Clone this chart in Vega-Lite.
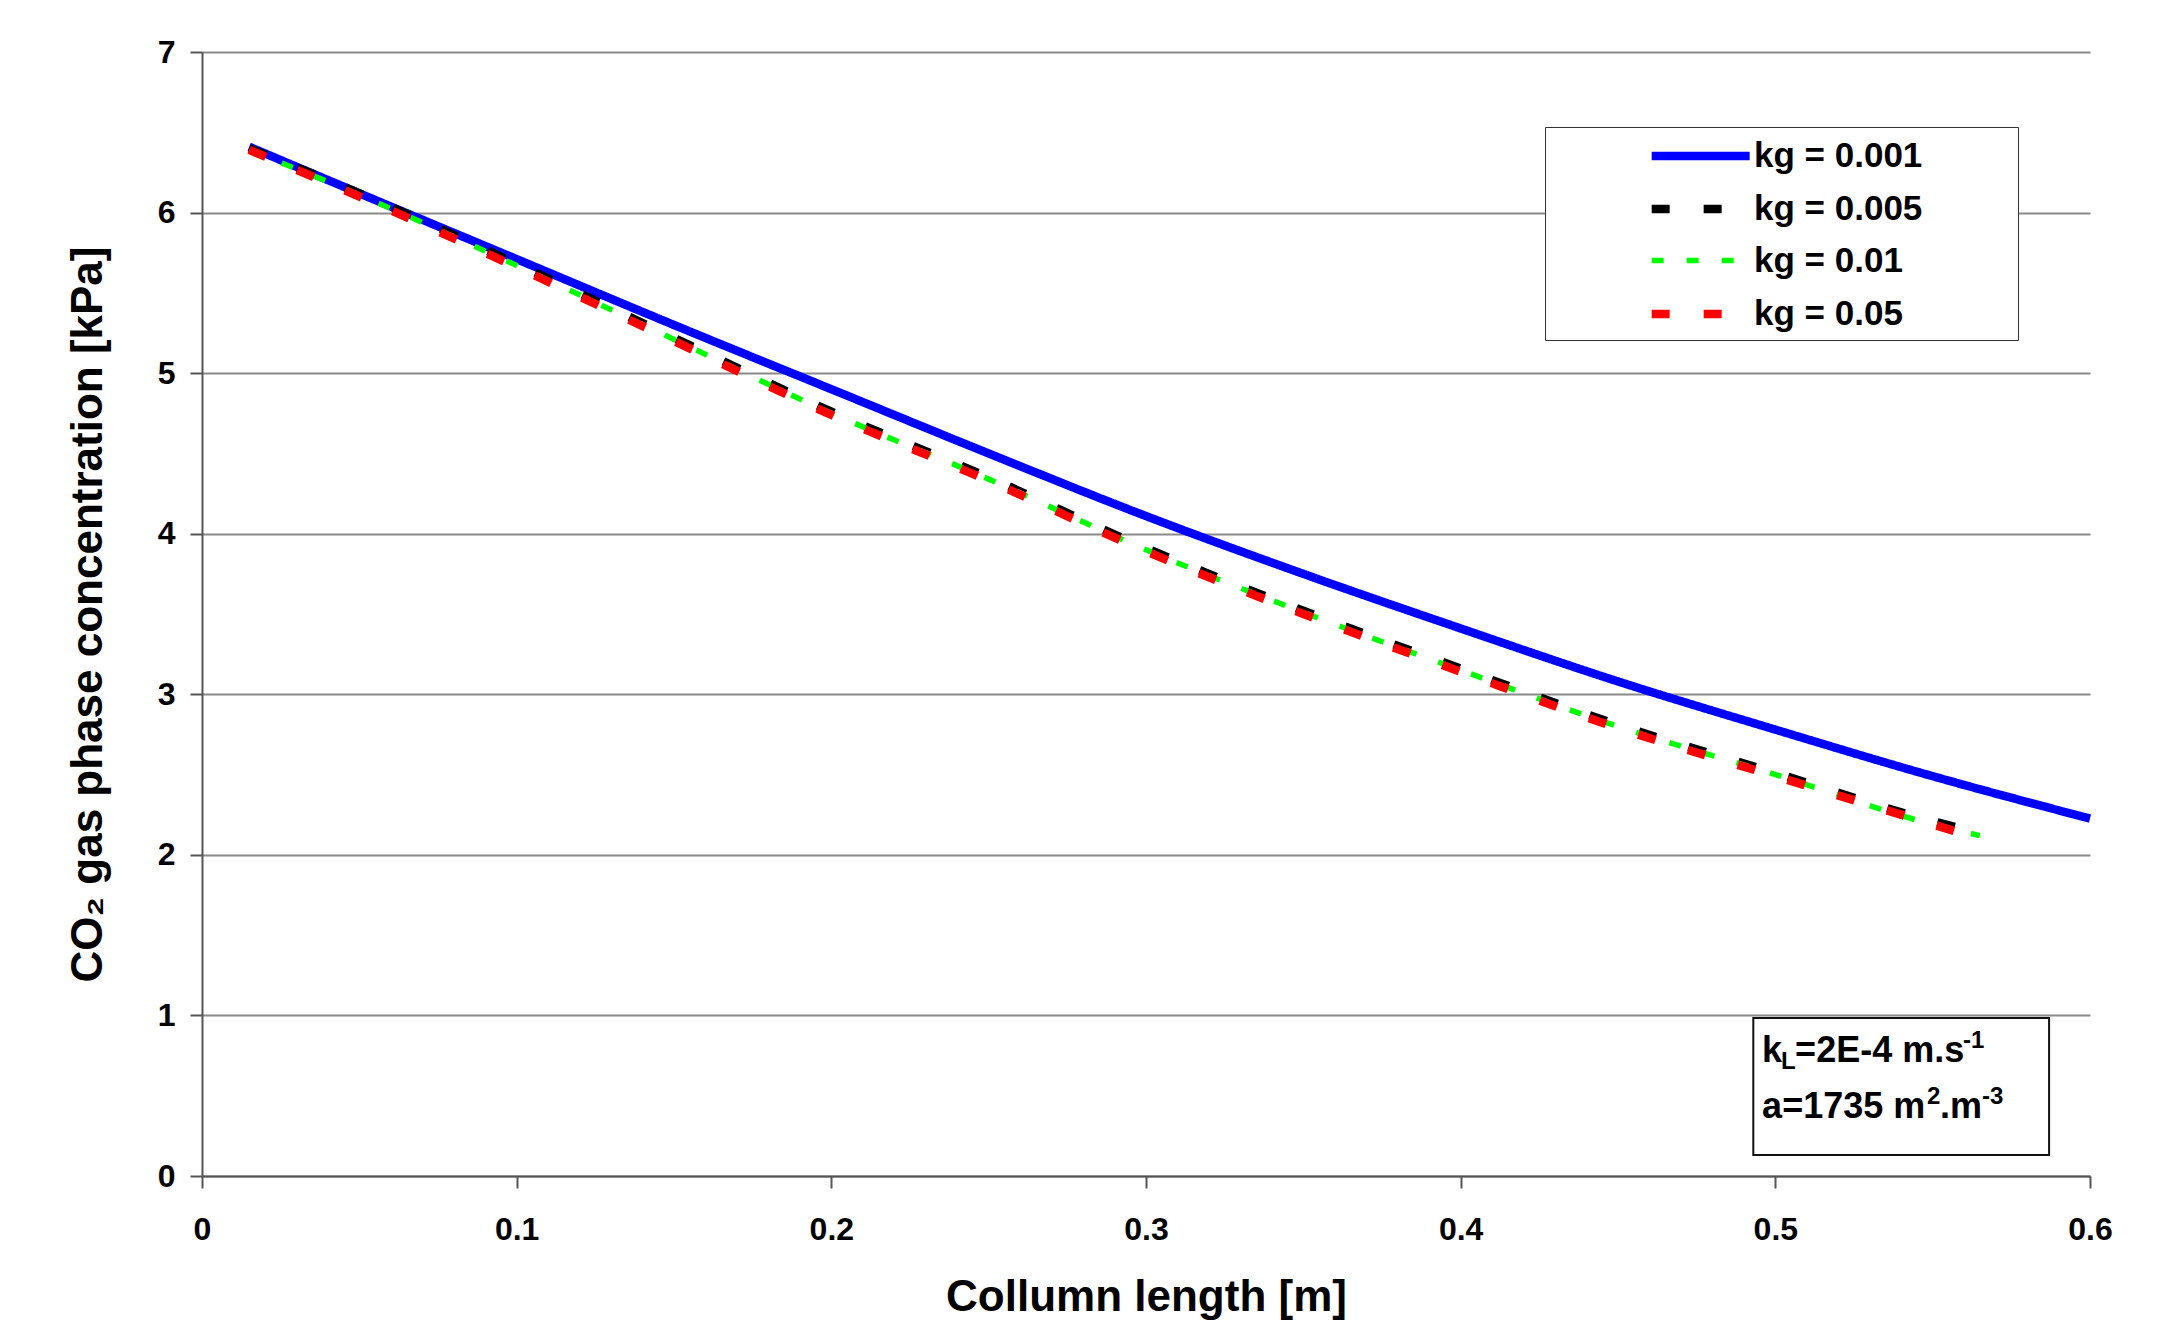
{
  "$schema": "https://vega.github.io/schema/vega-lite/v6.json",
  "width": 1888,
  "height": 1124,
  "autosize": "none",
  "padding": {"left": 202, "top": 52, "right": 67, "bottom": 149},
  "background": "white",
  "config": {"font": "Liberation Sans", "view": {"stroke": null}},
  "layer": [
    {
      "data": {"values": [
        {"L": 0.015, "C": 6.41, "s": "kg = 0.001"}, {"L": 0.05, "C": 6.12, "s": "kg = 0.001"}, {"L": 0.1, "C": 5.71, "s": "kg = 0.001"}, {"L": 0.15, "C": 5.30, "s": "kg = 0.001"}, {"L": 0.2, "C": 4.90, "s": "kg = 0.001"}, {"L": 0.25, "C": 4.50, "s": "kg = 0.001"}, {"L": 0.3, "C": 4.11, "s": "kg = 0.001"}, {"L": 0.35, "C": 3.75, "s": "kg = 0.001"}, {"L": 0.4, "C": 3.41, "s": "kg = 0.001"}, {"L": 0.45, "C": 3.08, "s": "kg = 0.001"}, {"L": 0.5, "C": 2.78, "s": "kg = 0.001"}, {"L": 0.55, "C": 2.49, "s": "kg = 0.001"}, {"L": 0.6, "C": 2.226, "s": "kg = 0.001"},
        {"L": 0.015, "C": 6.40, "s": "kg = 0.005"}, {"L": 0.05, "C": 6.12, "s": "kg = 0.005"}, {"L": 0.1, "C": 5.68, "s": "kg = 0.005"}, {"L": 0.15, "C": 5.22, "s": "kg = 0.005"}, {"L": 0.2, "C": 4.76, "s": "kg = 0.005"}, {"L": 0.25, "C": 4.35, "s": "kg = 0.005"}, {"L": 0.3, "C": 3.91, "s": "kg = 0.005"}, {"L": 0.35, "C": 3.52, "s": "kg = 0.005"}, {"L": 0.4, "C": 3.16, "s": "kg = 0.005"}, {"L": 0.45, "C": 2.81, "s": "kg = 0.005"}, {"L": 0.5, "C": 2.51, "s": "kg = 0.005"}, {"L": 0.55, "C": 2.21, "s": "kg = 0.005"}, {"L": 0.56, "C": 2.16, "s": "kg = 0.005"},
        {"L": 0.015, "C": 6.39, "s": "kg = 0.01"}, {"L": 0.05, "C": 6.11, "s": "kg = 0.01"}, {"L": 0.1, "C": 5.67, "s": "kg = 0.01"}, {"L": 0.15, "C": 5.21, "s": "kg = 0.01"}, {"L": 0.2, "C": 4.75, "s": "kg = 0.01"}, {"L": 0.25, "C": 4.34, "s": "kg = 0.01"}, {"L": 0.3, "C": 3.90, "s": "kg = 0.01"}, {"L": 0.35, "C": 3.51, "s": "kg = 0.01"}, {"L": 0.4, "C": 3.15, "s": "kg = 0.01"}, {"L": 0.45, "C": 2.80, "s": "kg = 0.01"}, {"L": 0.5, "C": 2.50, "s": "kg = 0.01"}, {"L": 0.55, "C": 2.19, "s": "kg = 0.01"}, {"L": 0.565, "C": 2.12, "s": "kg = 0.01"},
        {"L": 0.015, "C": 6.39, "s": "kg = 0.05"}, {"L": 0.05, "C": 6.10, "s": "kg = 0.05"}, {"L": 0.1, "C": 5.66, "s": "kg = 0.05"}, {"L": 0.15, "C": 5.20, "s": "kg = 0.05"}, {"L": 0.2, "C": 4.74, "s": "kg = 0.05"}, {"L": 0.25, "C": 4.33, "s": "kg = 0.05"}, {"L": 0.3, "C": 3.89, "s": "kg = 0.05"}, {"L": 0.35, "C": 3.50, "s": "kg = 0.05"}, {"L": 0.4, "C": 3.14, "s": "kg = 0.05"}, {"L": 0.45, "C": 2.79, "s": "kg = 0.05"}, {"L": 0.5, "C": 2.49, "s": "kg = 0.05"}, {"L": 0.55, "C": 2.19, "s": "kg = 0.05"}, {"L": 0.56, "C": 2.13, "s": "kg = 0.05"}
      ]},
      "mark": {"type": "line", "interpolate": "monotone", "strokeCap": "butt"},
      "encoding": {
        "x": {
          "field": "L", "type": "quantitative",
          "scale": {"domain": [0, 0.6], "nice": false, "zero": false},
          "axis": {
            "title": "Collumn length [m]",
            "values": [0, 0.1, 0.2, 0.3, 0.4, 0.5, 0.6],
            "format": "~g",
            "grid": false,
            "labelFontSize": 32, "labelFontWeight": "bold", "labelColor": "black", "labelFont": "Liberation Sans",
            "labelPadding": 26, "labelFlush": false, "labelOverlap": false,
            "tickSize": 12, "tickColor": "#555555", "tickWidth": 2,
            "domainColor": "#555555", "domainWidth": 2,
            "titleFontSize": 44, "titleFontWeight": "bold", "titleColor": "black", "titleFont": "Liberation Sans",
            "titlePadding": 30
          }
        },
        "y": {
          "field": "C", "type": "quantitative",
          "scale": {"domain": [0, 7], "nice": false},
          "axis": {
            "title": "CO₂ gas phase concentration [kPa]",
            "values": [0, 1, 2, 3, 4, 5, 6, 7],
            "format": "d",
            "grid": true, "gridColor": "#8a8a8a", "gridWidth": 2,
            "labelFontSize": 32, "labelFontWeight": "bold", "labelColor": "black", "labelFont": "Liberation Sans",
            "labelPadding": 15, "labelFlush": false, "labelOverlap": false,
            "tickSize": 12, "tickColor": "#555555", "tickWidth": 2,
            "domainColor": "#555555", "domainWidth": 2,
            "titleFontSize": 44, "titleFontWeight": "bold", "titleColor": "black", "titleFont": "Liberation Sans",
            "titlePadding": 47
          }
        },
        "color": {
          "field": "s", "type": "nominal",
          "scale": {"domain": ["kg = 0.001", "kg = 0.005", "kg = 0.01", "kg = 0.05"], "range": ["#0000ff", "#000000", "#00ff00", "#ff0000"]},
          "legend": {
            "orient": "none", "legendX": 1343, "legendY": 75, "title": null,
            "symbolType": "M-1,0H5", "symbolSize": 1067,
            "labelFontSize": 35, "labelFontWeight": "bold", "labelColor": "black", "labelFont": "Liberation Sans",
            "strokeColor": "#333333", "fillColor": "white", "padding": 8,
            "symbolOffset": 94, "labelOffset": 65, "rowPadding": 14, "labelLimit": 1000,
            "labelExpr": "datum.label + '\u00a0\u00a0\u00a0\u00a0\u00a0\u00a0\u00a0\u00a0\u00a0\u200b'"
          }
        },
        "strokeDash": {
          "field": "s", "type": "nominal",
          "scale": {"domain": ["kg = 0.001", "kg = 0.005", "kg = 0.01", "kg = 0.05"], "range": [[1, 0], [18, 34], [12, 23], [18, 34]]},
          "legend": {
            "orient": "none", "legendX": 1343, "legendY": 75, "title": null,
            "symbolType": "M-1,0H5", "symbolSize": 1067,
            "labelFontSize": 35, "labelFontWeight": "bold", "labelColor": "black", "labelFont": "Liberation Sans",
            "strokeColor": "#333333", "fillColor": "white", "padding": 8,
            "symbolOffset": 94, "labelOffset": 65, "rowPadding": 14, "labelLimit": 1000,
            "labelExpr": "datum.label + '\u00a0\u00a0\u00a0\u00a0\u00a0\u00a0\u00a0\u00a0\u00a0\u200b'"
          }
        },
        "strokeWidth": {
          "field": "s", "type": "nominal",
          "scale": {"type": "ordinal", "domain": ["kg = 0.001", "kg = 0.005", "kg = 0.01", "kg = 0.05"], "range": [8.5, 8.5, 5.5, 8.5]},
          "legend": {
            "orient": "none", "legendX": 1343, "legendY": 75, "title": null,
            "symbolType": "M-1,0H5", "symbolSize": 1067,
            "labelFontSize": 35, "labelFontWeight": "bold", "labelColor": "black", "labelFont": "Liberation Sans",
            "strokeColor": "#333333", "fillColor": "white", "padding": 8,
            "symbolOffset": 94, "labelOffset": 65, "rowPadding": 14, "labelLimit": 1000,
            "labelExpr": "datum.label + '\u00a0\u00a0\u00a0\u00a0\u00a0\u00a0\u00a0\u00a0\u00a0\u200b'"
          }
        }
      }
    },
    {
      "data": {"values": [{}]},
      "mark": {"type": "rect", "fill": "white", "stroke": "#111111", "strokeWidth": 2},
      "encoding": {
        "x": {"datum": 0.493, "type": "quantitative"},
        "x2": {"datum": 0.587},
        "y": {"datum": 0.984, "type": "quantitative"},
        "y2": {"datum": 0.131}
      }
    },
    {
      "data": {"values": [{}]},
      "mark": {"type": "text", "text": "k", "fontSize": 36, "fontWeight": "bold", "align": "left", "baseline": "alphabetic", "font": "Liberation Sans", "color": "black"},
      "encoding": {"x": {"datum": 0.4958, "type": "quantitative"}, "y": {"datum": 0.71, "type": "quantitative"}}
    },
    {
      "data": {"values": [{}]},
      "mark": {"type": "text", "text": "L", "fontSize": 24, "fontWeight": "bold", "align": "left", "baseline": "alphabetic", "font": "Liberation Sans", "color": "black", "dx": 19, "dy": 7},
      "encoding": {"x": {"datum": 0.4958, "type": "quantitative"}, "y": {"datum": 0.71, "type": "quantitative"}}
    },
    {
      "data": {"values": [{}]},
      "mark": {"type": "text", "text": "=2E-4 m.s", "fontSize": 36, "fontWeight": "bold", "align": "left", "baseline": "alphabetic", "font": "Liberation Sans", "color": "black", "dx": 33},
      "encoding": {"x": {"datum": 0.4958, "type": "quantitative"}, "y": {"datum": 0.71, "type": "quantitative"}}
    },
    {
      "data": {"values": [{}]},
      "mark": {"type": "text", "text": "-1", "fontSize": 24, "fontWeight": "bold", "align": "left", "baseline": "alphabetic", "font": "Liberation Sans", "color": "black", "dx": 201, "dy": -14},
      "encoding": {"x": {"datum": 0.4958, "type": "quantitative"}, "y": {"datum": 0.71, "type": "quantitative"}}
    },
    {
      "data": {"values": [{}]},
      "mark": {"type": "text", "text": "a=1735 m", "fontSize": 36, "fontWeight": "bold", "align": "left", "baseline": "alphabetic", "font": "Liberation Sans", "color": "black"},
      "encoding": {"x": {"datum": 0.4958, "type": "quantitative"}, "y": {"datum": 0.361, "type": "quantitative"}}
    },
    {
      "data": {"values": [{}]},
      "mark": {"type": "text", "text": "2", "fontSize": 24, "fontWeight": "bold", "align": "left", "baseline": "alphabetic", "font": "Liberation Sans", "color": "black", "dx": 165, "dy": -14},
      "encoding": {"x": {"datum": 0.4958, "type": "quantitative"}, "y": {"datum": 0.361, "type": "quantitative"}}
    },
    {
      "data": {"values": [{}]},
      "mark": {"type": "text", "text": ".m", "fontSize": 36, "fontWeight": "bold", "align": "left", "baseline": "alphabetic", "font": "Liberation Sans", "color": "black", "dx": 178},
      "encoding": {"x": {"datum": 0.4958, "type": "quantitative"}, "y": {"datum": 0.361, "type": "quantitative"}}
    },
    {
      "data": {"values": [{}]},
      "mark": {"type": "text", "text": "-3", "fontSize": 24, "fontWeight": "bold", "align": "left", "baseline": "alphabetic", "font": "Liberation Sans", "color": "black", "dx": 220, "dy": -14},
      "encoding": {"x": {"datum": 0.4958, "type": "quantitative"}, "y": {"datum": 0.361, "type": "quantitative"}}
    }
  ]
}
